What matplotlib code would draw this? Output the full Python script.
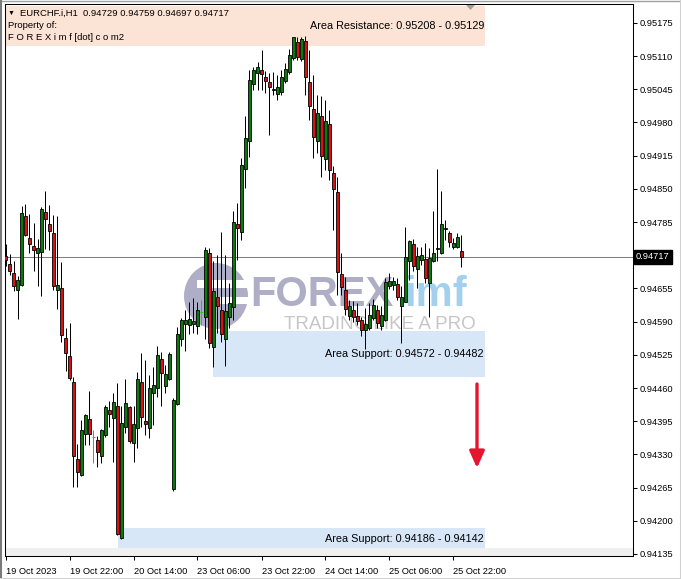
import matplotlib
matplotlib.use('Agg')
import matplotlib.pyplot as plt
from matplotlib.patches import Rectangle, Ellipse, Polygon
from matplotlib.lines import Line2D
import matplotlib.transforms as mtrans
import numpy as np

plt.rcParams['font.family'] = ['Liberation Sans', 'DejaVu Sans']

# ---------------- data ----------------
symbol = 'EURCHF.i,H1'
header_ohlc = ['0.94729', '0.94759', '0.94697', '0.94717']

opens = [0.94719, 0.94703, 0.94685, 0.94651, 0.94661, 0.94797, 0.94753, 0.94738, 0.94725, 0.94727,
         0.94804, 0.94781, 0.94763, 0.94651, 0.94656, 0.94558, 0.94523, 0.94471, 0.94321, 0.94290,
         0.94370, 0.94399, 0.94365, 0.94358, 0.94326, 0.94368, 0.94417, 0.94401, 0.94424, 0.94166,
         0.94383, 0.94422, 0.94352, 0.94381, 0.94471, 0.94396, 0.94381, 0.94451, 0.94460, 0.94517,
         0.94463, 0.94477, 0.94262, 0.94428, 0.94556, 0.94586, 0.94584, 0.94586, 0.94582, 0.94608,
         0.94600, 0.94724, 0.94541, 0.94639, 0.94613, 0.94556, 0.94600, 0.94619, 0.94781, 0.94766,
         0.94889, 0.94943, 0.95056, 0.95077, 0.95083, 0.95069, 0.95059, 0.95044, 0.95035, 0.95040,
         0.95062, 0.95079, 0.95107, 0.95138, 0.95104, 0.95140, 0.95060, 0.95006, 0.94944, 0.94992,
         0.94908, 0.94977, 0.94881, 0.94843, 0.94683, 0.94652, 0.94601, 0.94612, 0.94601, 0.94593,
         0.94574, 0.94577, 0.94597, 0.94613, 0.94582, 0.94593, 0.94660, 0.94662, 0.94664, 0.94621,
         0.94629, 0.94708, 0.94742, 0.94693, 0.94711, 0.94713, 0.94666, 0.94708, 0.94733, 0.94725,
         0.94772, 0.94764, 0.94737, 0.94736, 0.94729]
highs = [0.94742, 0.94723, 0.94709, 0.94680, 0.94817, 0.94821, 0.94801, 0.94783, 0.94751, 0.94815,
         0.94846, 0.94819, 0.94799, 0.94797, 0.94706, 0.94577, 0.94587, 0.94482, 0.94351, 0.94398,
         0.94409, 0.94454, 0.94377, 0.94366, 0.94379, 0.94427, 0.94435, 0.94450, 0.94470, 0.94425,
         0.94477, 0.94425, 0.94424, 0.94492, 0.94528, 0.94515, 0.94486, 0.94502, 0.94543, 0.94531,
         0.94505, 0.94531, 0.94440, 0.94580, 0.94597, 0.94612, 0.94629, 0.94636, 0.94629, 0.94633,
         0.94736, 0.94734, 0.94708, 0.94721, 0.94765, 0.94721, 0.94665, 0.94806, 0.94823, 0.94910,
         0.94992, 0.95083, 0.95088, 0.95099, 0.95122, 0.95080, 0.95077, 0.95079, 0.95073, 0.95083,
         0.95096, 0.95123, 0.95147, 0.95147, 0.95147, 0.95150, 0.95122, 0.95073, 0.95034, 0.95032,
         0.95024, 0.95005, 0.94894, 0.94874, 0.94724, 0.94678, 0.94633, 0.94631, 0.94627, 0.94600,
         0.94616, 0.94626, 0.94634, 0.94623, 0.94620, 0.94675, 0.94685, 0.94677, 0.94675, 0.94659,
         0.94775, 0.94750, 0.94751, 0.94737, 0.94736, 0.94744, 0.94734, 0.94807, 0.94889, 0.94845,
         0.94789, 0.94768, 0.94753, 0.94764, 0.94759]
lows = [0.94699, 0.94681, 0.94649, 0.94595, 0.94660, 0.94758, 0.94725, 0.94690, 0.94659, 0.94640,
        0.94732, 0.94730, 0.94652, 0.94614, 0.94551, 0.94494, 0.94476, 0.94267, 0.94267, 0.94287,
        0.94349, 0.94349, 0.94314, 0.94305, 0.94314, 0.94365, 0.94383, 0.94316, 0.94172, 0.94165,
        0.94372, 0.94353, 0.94316, 0.94342, 0.94384, 0.94368, 0.94362, 0.94388, 0.94443, 0.94425,
        0.94451, 0.94476, 0.94259, 0.94427, 0.94543, 0.94533, 0.94566, 0.94567, 0.94566, 0.94584,
        0.94556, 0.94538, 0.94502, 0.94567, 0.94551, 0.94503, 0.94577, 0.94593, 0.94711, 0.94750,
        0.94851, 0.94913, 0.95044, 0.95044, 0.95044, 0.95037, 0.94956, 0.95034, 0.95024, 0.95033,
        0.95057, 0.95075, 0.95102, 0.95102, 0.95101, 0.95034, 0.94985, 0.94910, 0.94920, 0.94874,
        0.94887, 0.94868, 0.94770, 0.94642, 0.94642, 0.94603, 0.94593, 0.94590, 0.94584, 0.94561,
        0.94536, 0.94574, 0.94593, 0.94578, 0.94574, 0.94592, 0.94654, 0.94652, 0.94633, 0.94548,
        0.94629, 0.94672, 0.94689, 0.94655, 0.94701, 0.94665, 0.94600, 0.94706, 0.94708, 0.94723,
        0.94750, 0.94736, 0.94732, 0.94734, 0.94697]
closes = [0.94710, 0.94690, 0.94659, 0.94672, 0.94802, 0.94759, 0.94742, 0.94730, 0.94734, 0.94810,
          0.94791, 0.94768, 0.94659, 0.94661, 0.94563, 0.94529, 0.94479, 0.94326, 0.94296, 0.94378,
          0.94407, 0.94370, 0.94365, 0.94334, 0.94378, 0.94422, 0.94409, 0.94432, 0.94174, 0.94391,
          0.94430, 0.94357, 0.94390, 0.94477, 0.94403, 0.94389, 0.94460, 0.94466, 0.94525, 0.94489,
          0.94488, 0.94527, 0.94437, 0.94566, 0.94593, 0.94593, 0.94595, 0.94592, 0.94613, 0.94608,
          0.94730, 0.94549, 0.94649, 0.94621, 0.94566, 0.94610, 0.94626, 0.94786, 0.94773, 0.94897,
          0.94949, 0.95064, 0.95082, 0.95088, 0.95074, 0.95062, 0.95050, 0.95046, 0.95050, 0.95069,
          0.95084, 0.95112, 0.95147, 0.95109, 0.95143, 0.95069, 0.95012, 0.94951, 0.94998, 0.94915,
          0.94982, 0.94886, 0.94849, 0.94688, 0.94658, 0.94615, 0.94621, 0.94599, 0.94592, 0.94574,
          0.94586, 0.94603, 0.94623, 0.94588, 0.94603, 0.94668, 0.94670, 0.94670, 0.94638, 0.94639,
          0.94716, 0.94748, 0.94698, 0.94719, 0.94721, 0.94675, 0.94714, 0.94724, 0.94735, 0.94781,
          0.94774, 0.94745, 0.94744, 0.94755, 0.94717]

time_labels = ['19 Oct 2023', '19 Oct 22:00', '20 Oct 14:00', '23 Oct 06:00',
               '23 Oct 22:00', '24 Oct 14:00', '25 Oct 06:00', '25 Oct 22:00']
time_label_bars = [0, 16, 32, 48, 64, 80, 96, 112]

price_ticks = [0.95175, 0.95110, 0.95045, 0.94980, 0.94915, 0.94850, 0.94785,
               0.94655, 0.94590, 0.94525, 0.94460, 0.94395, 0.94330, 0.94265,
               0.94200, 0.94135]
current_price = 0.94717

resistance_zone = (0.95208, 0.95129)
support_zone_1 = (0.94572, 0.94482)
support_zone_2 = (0.94186, 0.94142)

# ---------------- layout ----------------
W, H = 681, 579
L, R, T, B = 5, 633, 4, 556
BAR_PX = 4.0
Y_TOP, Y_BOT = 0.95212, 0.94131
PX_PRICE = (Y_TOP - Y_BOT) / (B - T)   # price per pixel

fig = plt.figure(figsize=(W / 100, H / 100), dpi=100)
fig.patch.set_facecolor('white')
ax = fig.add_axes([L / W, 1 - B / H, (R - L) / W, (B - T) / H])
x0 = -(0.5) / BAR_PX
ax.set_xlim(x0, x0 + (R - L) / BAR_PX)
ax.set_ylim(Y_BOT, Y_TOP)
ax.set_facecolor('white')


def bx(px):  # pixel x -> bar coordinate (layout only)
    return x0 + (px - L) / BAR_PX


def py(pix):  # pixel y -> price coordinate (layout only)
    return Y_TOP - (pix - T) * PX_PRICE


def axx(px):
    return (px - L) / (R - L)


def axy(pix):
    return (B - pix) / (B - T)


O = np.array(opens); Hh = np.array(highs); Lw = np.array(lows); C = np.array(closes)
n = len(O)
xs = np.arange(n)

# zones
ax.add_patch(Rectangle((x0, resistance_zone[1]), bx(485) - x0, resistance_zone[0] - resistance_zone[1],
                       facecolor='#fbe3d6', edgecolor='none', zorder=0.5))
ax.add_patch(Rectangle((bx(213), support_zone_1[1]), bx(485) - bx(213), support_zone_1[0] - support_zone_1[1],
                       facecolor='#d8e7f7', edgecolor='none', zorder=0.5))
ax.add_patch(Rectangle((bx(118), support_zone_2[1]), bx(485) - bx(118), support_zone_2[0] - support_zone_2[1],
                       facecolor='#d8e7f7', edgecolor='none', zorder=0.5))
ax.add_patch(Rectangle((x0, Y_BOT), (R - L) / BAR_PX, py(548) - Y_BOT,
                       facecolor='#f0f0f0', edgecolor='none', zorder=0.6))

# watermark
wm_gray = '#a0a0bc'
ax.add_patch(Ellipse((axx(216), axy(296)), 64 / (R - L), 66 / (B - T), transform=ax.transAxes,
                     facecolor=wm_gray, edgecolor='none', alpha=0.85, zorder=1))
ax.add_patch(Rectangle((axx(197), axy(288)), 56 / (R - L), 8 / (B - T), transform=ax.transAxes,
                       facecolor='white', edgecolor='none', zorder=1.1))
ax.add_patch(Rectangle((axx(216), axy(304)), 36 / (R - L), 7 / (B - T), transform=ax.transAxes,
                       facecolor='white', edgecolor='none', zorder=1.1))
ax.text(axx(250), axy(306), 'FOREX', transform=ax.transAxes, fontsize=30, fontweight='bold',
        color=wm_gray, alpha=0.85, ha='left', va='baseline', zorder=1)
ax.text(axx(404), axy(306), 'imf', transform=ax.transAxes, fontsize=30, fontweight='bold',
        color='#98cbec', alpha=0.9, ha='left', va='baseline', zorder=1)
ax.text(axx(284), axy(329), 'TRADING LIKE A PRO', transform=ax.transAxes, fontsize=13.5,
        color='#c6c6c6', ha='left', va='baseline', zorder=1)

# current price line
ax.axhline(current_price, color='#808080', lw=0.75, zorder=2)

# candles: wicks + coloured bodies with thin black outline
doji = np.isclose(O, C)
up = (C > O) & ~doji
dn = (C < O) & ~doji
wick_col = np.where(doji, '#00e000', 'black')
ax.vlines(xs, Lw, Hh, colors=wick_col, lw=0.72, zorder=3)
blo = np.minimum(O, C)
bhi = np.maximum(O, C)
bh = np.maximum(bhi - blo, PX_PRICE * 0.6)
ax.bar(xs[up], bh[up], bottom=blo[up], width=0.78, color='#0a7a0a', edgecolor='black',
       lw=0.6, zorder=4)
ax.bar(xs[dn], bh[dn], bottom=blo[dn], width=0.78, color='#d81212', edgecolor='black',
       lw=0.6, zorder=4)
ax.hlines(C[doji], xs[doji] - 0.375, xs[doji] + 0.375, colors='#00e000', lw=0.72, zorder=4)

# zone labels
lab_kw = dict(fontsize=7.8, color='black', ha='right', va='center', zorder=6)
ax.text(bx(484), sum(resistance_zone) / 2, 'Area Resistance: %.5f - %.5f' % resistance_zone, **lab_kw)
ax.text(bx(484), sum(support_zone_1) / 2, 'Area Support: %.5f - %.5f' % support_zone_1, **lab_kw)
ax.text(bx(484), sum(support_zone_2) / 2, 'Area Support: %.5f - %.5f' % support_zone_2, **lab_kw)

# arrow
ax.annotate('', xy=(bx(477), py(468)), xytext=(bx(477), py(384)),
            arrowprops=dict(arrowstyle='-|>,head_length=1.0,head_width=0.45', color='#e3152f',
                            lw=2.4, shrinkA=0, shrinkB=0), zorder=6)

# axes styling
for s in ax.spines.values():
    s.set_color('black')
    s.set_linewidth(0.75)
ax.yaxis.tick_right()
ax.set_yticks(price_ticks)
ax.set_yticklabels(['%.5f' % v for v in price_ticks])
ax.set_xticks(time_label_bars)
ax.set_xticklabels(time_labels, ha='left')
ax.tick_params(axis='both', direction='out', length=3, width=0.75, colors='black',
               labelsize=6.7, pad=2)
ax.tick_params(axis='x', pad=5)

# current price tag
blend = mtrans.blended_transform_factory(fig.transFigure, ax.transData)
fig.text(636 / W, current_price, '%.5f' % current_price, transform=blend, fontsize=6.7, color='white',
         va='center', ha='left',
         bbox=dict(boxstyle='square,pad=0.25', facecolor='black', edgecolor='black'))

# header texts
fig.text(8 / W, 1 - 13 / H, '▼', fontsize=5, color='black', va='center', ha='left')
fig.text(20 / W, 1 - 13 / H, symbol + '  ' + ' '.join(header_ohlc), fontsize=6.8, va='center', ha='left')
fig.text(8 / W, 1 - 25.5 / H, 'Property of:', fontsize=6.8, va='center', ha='left')
fig.text(8 / W, 1 - 38 / H, 'F O R E X i m f [dot] c o m2', fontsize=6.8, va='center', ha='left')

# shift marker
fig.add_artist(Polygon([(466 / W, 1 - 5 / H), (475 / W, 1 - 5 / H), (470.5 / W, 1 - 10 / H)],
                       closed=True, transform=fig.transFigure, facecolor='#a0a0a0', edgecolor='none'))

# window borders
fig.add_artist(Line2D([0, 1], [1 - 0.5 / H, 1 - 0.5 / H], transform=fig.transFigure, color='#a0a0a0', lw=1))
fig.add_artist(Line2D([1 / W, 1 / W], [0, 1], transform=fig.transFigure, color='#7a7a7a', lw=1.5))
fig.add_artist(Line2D([679.5 / W, 679.5 / W], [0, 1], transform=fig.transFigure, color='#d0d0d0', lw=0.75))
fig.add_artist(Line2D([0, 1], [1 - 577.5 / H, 1 - 577.5 / H], transform=fig.transFigure, color='#d0d0d0', lw=0.75))

fig.savefig('out.png', dpi=100, facecolor='white')
